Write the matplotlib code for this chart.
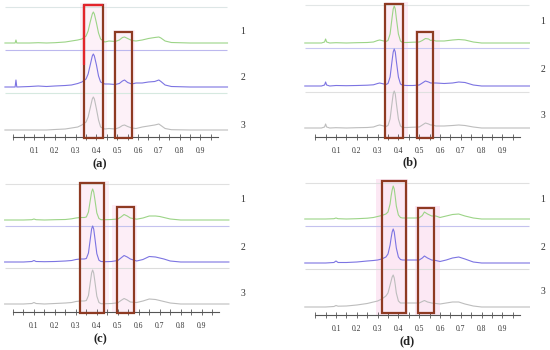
import matplotlib
matplotlib.use('Agg')
import matplotlib.pyplot as plt
from matplotlib.patches import Rectangle

# ---------------- data ----------------
TICKS = [0, 0.05, 0.1, 0.15, 0.2, 0.25, 0.3, 0.35, 0.4, 0.45, 0.5,
         0.55, 0.6, 0.65, 0.7, 0.75, 0.8, 0.85, 0.9, 0.95]
TICK_LABELS = ['', '', '0.1', '', '0.2', '', '0.3', '', '0.4', '', '0.5',
               '', '0.6', '', '0.7', '', '0.8', '', '0.9', '']
SERIES_NAMES = ['1', '2', '3']
PANEL_NAMES = ['(a)', '(b)', '(c)', '(d)']

XA = [-0.04, 0.009, 0.013, 0.017, 0.08, 0.12, 0.16, 0.20, 0.25, 0.28, 0.31, 0.33, 0.35,
      0.36, 0.37, 0.38, 0.385, 0.39, 0.40, 0.41, 0.42, 0.44, 0.46, 0.49, 0.51, 0.525,
      0.535, 0.55, 0.57, 0.59, 0.62, 0.65, 0.68, 0.70, 0.71, 0.73, 0.76, 0.85, 1.03]
A1 = [0, 0, 3, 0, 0, 0.3, 0, 0.3, 1, 2, 3, 4, 7, 12, 21, 29, 31, 29, 20, 10, 4, 1, 2,
      1.5, 3, 5.5, 6, 4.5, 2.5, 2, 3, 4.5, 5.5, 6, 5, 2, 0.5, 0, 0]
A2 = [0, 0, 7, 0, 0.5, 1, 0.5, 1, 1.5, 2, 3.5, 5, 8, 13, 22, 31, 33, 31, 22, 11, 5, 3, 3,
      2.5, 3.5, 6, 7, 4.5, 3, 4, 4, 5, 5.5, 7, 5.5, 2, 0.5, 0, 0]
A3 = [0, 0, 0, 0, 0, 0, 0, 0.5, 1, 2, 3, 5, 8, 13, 22, 31, 33, 31, 21, 10, 3, 1, 1.5,
      1, 2.5, 4.5, 5, 3.5, 2, 1.5, 3, 4, 5, 6, 4.5, 1.5, 0.3, 0, 0]

XB = [-0.05, 0.03, 0.045, 0.05, 0.055, 0.07, 0.10, 0.15, 0.20, 0.25, 0.28, 0.30, 0.31,
      0.32, 0.34, 0.35, 0.36, 0.37, 0.375, 0.38, 0.385, 0.39, 0.40, 0.41, 0.42, 0.44,
      0.47, 0.50, 0.515, 0.53, 0.545, 0.555, 0.565, 0.58, 0.62, 0.66, 0.69, 0.72, 0.76,
      0.80, 1.03]
B1 = [0, 0, 1, 4, 1, 0, 0.3, 0, 0.3, 0.5, 1, 2.5, 3, 2.5, 1.5, 2.5, 9, 26, 34, 37, 34,
      25, 9, 2, 0.5, 0.5, 0.8, 1, 2.5, 4.5, 4, 2.5, 3, 2, 2, 3, 3.5, 3, 1, 0, 0]
B2 = [0, 0, 1, 4, 1, 0, 0.5, 0.3, 0.5, 0.8, 1.2, 2.5, 3, 2.5, 1.5, 2.5, 9, 26, 34, 37,
      34, 25, 9, 2, 0.8, 0.5, 0.5, 1, 3, 5, 4, 3, 3, 3, 2.5, 3, 4, 3.5, 1, 0, 0]
B3 = [0, 0, 1, 4, 1, 0, 0.3, 0, 0.3, 0.5, 1, 2.5, 3, 2.5, 1.5, 2.5, 9, 26, 34, 37, 34,
      25, 9, 2, 0.5, 0.5, 0.8, 1, 3, 5, 4, 3, 3, 2, 2, 2.5, 3, 2.5, 1, 0, 0]

XC = [-0.04, 0.05, 0.09, 0.10, 0.11, 0.15, 0.20, 0.25, 0.28, 0.30, 0.32, 0.34, 0.35,
      0.36, 0.37, 0.375, 0.38, 0.385, 0.39, 0.40, 0.41, 0.42, 0.44, 0.47, 0.50, 0.515,
      0.53, 0.545, 0.56, 0.59, 0.62, 0.65, 0.68, 0.70, 0.72, 0.75, 0.80, 1.03]
C1 = [0, 0, 0.3, 1, 0.3, 0, 0.3, 0.5, 1.2, 2, 2.5, 2.5, 3, 8, 21.5, 28, 31, 28, 21.5, 7,
      1.5, 0.3, 0.3, 0.5, 1, 3, 5.5, 4, 2, 0.8, 2, 4, 4, 3.5, 2.5, 1, 0, 0]
C2 = [0, 0, 0.5, 1.5, 0.5, 0.3, 0.5, 1, 1.5, 2.5, 3, 3, 3.5, 9, 25, 33, 36, 33, 25, 8.3,
      1.8, 0.5, 0.3, 0.5, 1.5, 4, 6.5, 5, 3, 1, 2.5, 5.5, 5, 4, 3, 1, 0, 0]
C3 = [0, 0, 0.5, 1.5, 0.5, 0, 0.5, 1, 1.5, 2.5, 3, 3, 3.5, 8.5, 23.5, 31, 34, 31, 23.5,
      7.8, 1.5, 0.3, 0.3, 0.5, 1.2, 3.5, 5.5, 4, 2, 1.5, 3, 5, 4.5, 3.5, 2.5, 1, 0, 0]

XD = [-0.05, 0.05, 0.09, 0.10, 0.11, 0.15, 0.20, 0.25, 0.28, 0.30, 0.32, 0.34, 0.35,
      0.36, 0.365, 0.37, 0.375, 0.38, 0.385, 0.39, 0.40, 0.41, 0.42, 0.45, 0.48, 0.50,
      0.515, 0.525, 0.54, 0.56, 0.58, 0.60, 0.63, 0.66, 0.69, 0.72, 0.76, 0.80, 1.03]
D1 = [0, 0, 0.3, 1, 0.3, 0, 0.3, 0.8, 1.5, 2.5, 3.5, 5, 7, 15, 23, 29, 33, 30, 22, 13, 4,
      1.5, 1, 1, 1, 1.2, 3.5, 7, 5, 3, 3, 1.5, 3, 4.5, 5, 3, 1, 0, 0]
D2 = [0, 0, 0.5, 2, 0.5, 0.5, 1, 2, 2.5, 3, 4, 6, 9, 18, 25, 31, 34, 31, 23, 15, 6, 3.5,
      3, 3, 3, 3, 5, 7, 5, 3, 2.5, 1.5, 3, 5, 6, 4, 1, 0, 0]
D3 = [0, 0, 0.5, 1.5, 0.8, 1, 2, 3.5, 5, 6, 8, 11, 14, 22, 26, 30, 32, 29, 22, 14, 6, 4,
      4, 4, 4, 4, 5.5, 6.5, 5, 4, 3.5, 3, 4, 5, 5, 3, 1, 0, 0]

PANEL_X = [XA, XB, XC, XD]
PANEL_Y = [[A1, A2, A3], [B1, B2, B3], [C1, C2, C3], [D1, D2, D3]]

# ---------------- layout / style ----------------
CURVE_COLORS = ['#9cd487', '#7c74e2', '#bdbdbd']
BOX_COLOR = '#8e3a22'
PINKS_COL = ['#fdf1f8', '#fdecf6', '#fdeef7', '#fce8f4']
SERIF = ['Liberation Serif', 'DejaVu Serif']

LAYOUT = [
    dict(x0=13.25, s=208, ay=137, base=[94, 50, 7], x1=1.03,
         lines=[(130, '#dde6e6'), (87, '#bcb8ee'), (44, '#d6e9e0')],
         boxes=[(0.340, 0.431, -1, 132), (0.489, 0.571, -1, 105)],
         pinks=[(0.32, 0.45, -1, 134), (0.48, 0.585, -1, 107)],
         numx=1.105, numy=[106, 59, 12], lab=(0.417, -27), redbox=True),
    dict(x0=315.2, s=208, ay=137, base=[94, 51, 9], x1=1.03,
         lines=[(132, '#e2e6e6'), (89, '#c8c8f2'), (45, '#e0e0e0')],
         boxes=[(0.336, 0.422, -1, 133), (0.49, 0.567, -1, 105)],
         pinks=[(0.336, 0.446, -1, 135), (0.48, 0.60, -1, 107)],
         numx=1.095, numy=[115, 67, 22], lab=(0.456, -25), redbox=False),
    dict(x0=13.0, s=209.6, ay=312, base=[92, 50, 8], x1=1.03,
         lines=[(128, '#e0e0e0'), (86, '#c4c2ee'), (44, '#dcdcdc')],
         boxes=[(0.32, 0.434, -1, 129), (0.496, 0.577, -1, 105)],
         pinks=[(0.32, 0.46, -1, 131), (0.47, 0.59, -1, 107)],
         numx=1.097, numy=[113, 65, 19], lab=(0.415, -27), redbox=False),
    dict(x0=315.2, s=208, ay=315, base=[96, 52, 8], x1=1.03,
         lines=[(132, '#e0e0e0'), (89, '#c4c2ee'), (46, '#dcdcdc')],
         boxes=[(0.32, 0.435, 2, 134), (0.494, 0.573, 2, 107)],
         pinks=[(0.29, 0.446, 0, 136), (0.48, 0.60, 0, 109)],
         numx=1.095, numy=[116, 68, 23], lab=(0.44, -26), redbox=False),
]

W, H = 550, 350
fig = plt.figure(figsize=(W / 100, H / 100), dpi=100)
XLIM = (-0.06, 1.16)
YLIM = (-32, 136)

for k, L in enumerate(LAYOUT):
    left = (L['x0'] + L['s'] * XLIM[0]) / W
    width = L['s'] * (XLIM[1] - XLIM[0]) / W
    bottom = (H - (L['ay'] - YLIM[0])) / H
    height = (YLIM[1] - YLIM[0]) / H
    ax = fig.add_axes([left, bottom, width, height])
    ax.set_xlim(*XLIM)
    ax.set_ylim(*YLIM)
    ax.patch.set_alpha(0)
    for sp in ['top', 'left', 'right']:
        ax.spines[sp].set_visible(False)
    ax.spines['bottom'].set_position(('data', 0))
    ax.spines['bottom'].set_bounds(0, 0.985)
    ax.spines['bottom'].set_color('#555555')
    ax.spines['bottom'].set_linewidth(0.8)
    ax.set_yticks([])
    ax.set_xticks(TICKS)
    ax.set_xticklabels(TICK_LABELS, fontfamily=SERIF, fontsize=5.5, color='#333333')
    ax.tick_params(axis='x', direction='inout', length=4, width=0.6,
                   color='#555555', pad=5)

    xs = PANEL_X[k]
    xstart = xs[0]
    # pink glow
    for (a, b, y0, y1) in L['pinks']:
        ax.add_patch(Rectangle((a, y0), b - a, y1 - y0, facecolor=PINKS_COL[k],
                               edgecolor='none', zorder=0))
    # horizontal guide lines
    for (yy, col) in L['lines']:
        ax.hlines(yy, xstart, L['x1'], colors=col, lw=0.8, zorder=1)
    # curves
    for j, ys in enumerate(PANEL_Y[k]):
        base = L['base'][j]
        ax.plot(xs, [base + v for v in ys], color=CURVE_COLORS[j], lw=0.8, zorder=2)
        ax.text(L['numx'], L['numy'][j], SERIES_NAMES[j], fontfamily=SERIF,
                fontsize=7, color='#333333', ha='center', va='center')
    # boxes
    for (a, b, y0, y1) in L['boxes']:
        ax.add_patch(Rectangle((a, y0), b - a, y1 - y0, fill=False,
                               edgecolor=BOX_COLOR, lw=1.6, zorder=5))
    if L['redbox']:
        a, b, y0, y1 = L['boxes'][0]
        ax.plot([a, a, b], [y1 - 60, y1, y1], color='#e3242b', lw=1.6, zorder=6,
                solid_capstyle='butt')
    ax.text(L['lab'][0], L['lab'][1], PANEL_NAMES[k], fontfamily=SERIF,
            fontsize=9, fontweight='bold', color='#222222', ha='center', va='center')

fig.savefig('out.png', dpi=100)
